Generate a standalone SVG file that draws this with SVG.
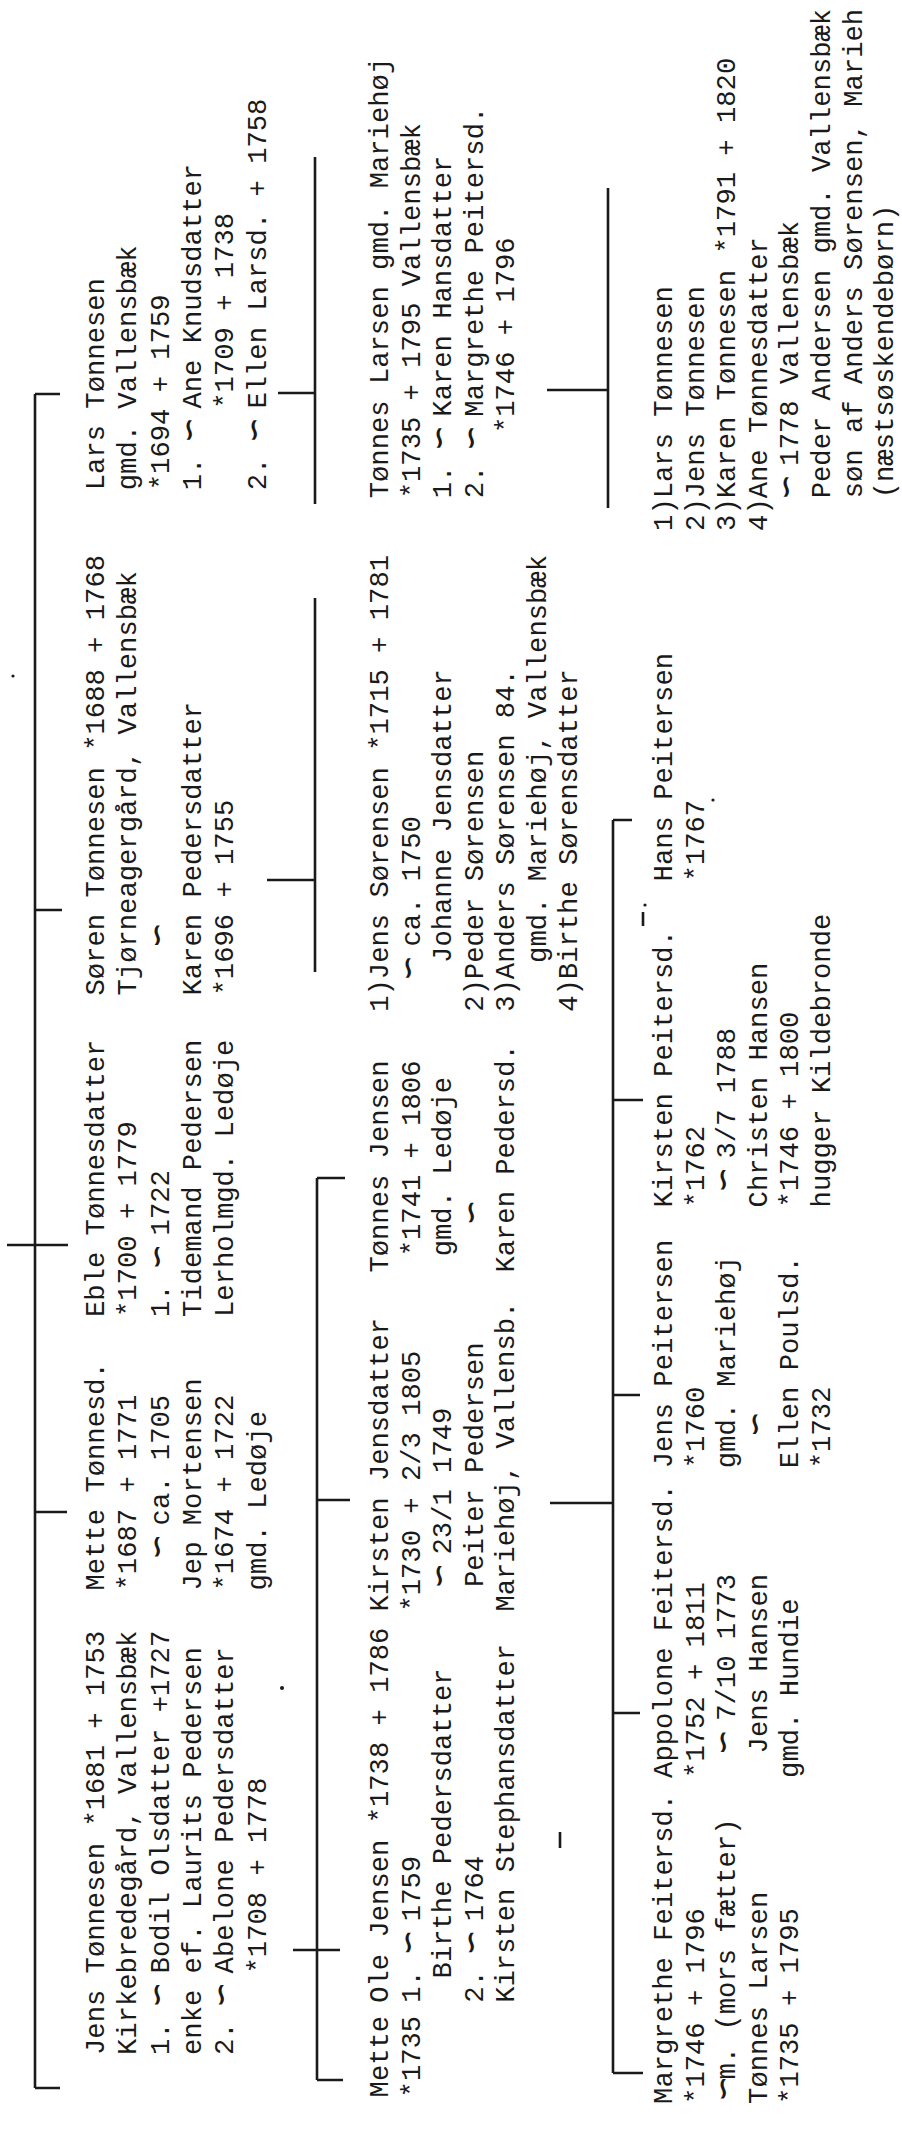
<svg xmlns="http://www.w3.org/2000/svg" width="902" height="2145" viewBox="0 0 902 2145">
<style>
.t{font-family:"Liberation Mono","DejaVu Sans Mono",monospace;font-size:27.2px;fill:#1a1a1a}
.m{font-family:"DejaVu Sans Mono",monospace;font-size:38px}
.c{stroke:#1a1a1a;stroke-width:2.6;fill:none}
</style>
<rect width="902" height="2145" fill="#fff"/>
<g id="connectors" class="c">
<path d="M35,394V2088M35,394H60M35,910H62M7,1245H68M35,1512H67M35,2088H60"/>
<path d="M278,393H315M315,157V504"/>
<path d="M267,880H315M315,598V972"/>
<path d="M293,1950H340M317,1178V2080M317,1178H345M317,1500H350M317,2080H343"/>
<path d="M550,1503H613M613,820V2073M613,820H632M613,1100H643M613,1395H640M613,1713H640M613,2073H643"/>
<path d="M547,390H608M608,188V508"/>
<path d="M643,912V926M560,1832V1848"/>
</g>
<g id="marks" fill="#1a1a1a">
<circle cx="282" cy="1688" r="2"/><circle cx="13" cy="676" r="1.6"/><circle cx="713" cy="800" r="1.6"/><circle cx="645" cy="905" r="1.6"/>
</g>
<g transform="translate(0,2145) rotate(-90)">
<g id="n-jens" class="t">
<text x="90" y="104">Jens Tønnesen *1681 + 1753</text>
<text x="90" y="136.3">Kirkebredegård, Vallensbæk</text>
<text x="90" y="168.6">1. <tspan class="m">∽</tspan><tspan x="155.3"> Bodil Olsdatter +1727</tspan></text>
<text x="90" y="200.9">enke ef. Laurits Pedersen</text>
<text x="90" y="233.2">2. <tspan class="m">∽</tspan><tspan x="155.3"> Abelone Pedersdatter</tspan></text>
<text x="171.5" y="265.5">*1708 + 1778</text>
</g>
<g id="n-mette" class="t">
<text x="554.5" y="104">Mette Tønnesd.</text>
<text x="554.5" y="136.3">*1687 + 1771</text>
<text x="587" y="168.6"><tspan class="m">∽</tspan><tspan x="603.3"> ca. 1705</tspan></text>
<text x="554.5" y="200.9">Jep Mortensen</text>
<text x="554.5" y="233.2">*1674 + 1722</text>
<text x="554.5" y="265.5">gmd. Ledøje</text>
</g>
<g id="n-eble" class="t">
<text x="828" y="104">Eble Tønnesdatter</text>
<text x="828" y="136.3">*1700 + 1779</text>
<text x="828" y="168.6">1. <tspan class="m">∽</tspan><tspan x="893.3"> 1722</tspan></text>
<text x="828" y="200.9">Tidemand Pedersen</text>
<text x="828" y="233.2">Lerholmgd. Ledøje</text>
</g>
<g id="n-soren" class="t">
<text x="1149.5" y="104">Søren Tønnesen *1688 + 1768</text>
<text x="1149.5" y="136.3">Tjørneagergård, Vallensbæk</text>
<text x="1198.4" y="168.6" class="m">∽</text>
<text x="1149.5" y="200.9">Karen Pedersdatter</text>
<text x="1149.5" y="233.2">*1696 + 1755</text>
</g>
<g id="n-lars" class="t">
<text x="1654.8" y="104">Lars Tønnesen</text>
<text x="1654.8" y="136.3">gmd. Vallensbæk</text>
<text x="1654.8" y="168.6">*1694 + 1759</text>
<text x="1654.8" y="200.9">1. <tspan class="m">∽</tspan><tspan x="1720.1"> Ane Knudsdatter</tspan></text>
<text x="1736.3" y="233.2">*1709 + 1738</text>
<text x="1654.8" y="265.5">2. <tspan class="m">∽</tspan><tspan x="1720.1"> Ellen Larsd. + 1758</tspan></text>
</g>
<g id="n-mette2" class="t">
<text x="47.6" y="388">Mette</text>
<text x="47.6" y="419.5">*1735</text>
</g>
<g id="n-ole" class="t">
<text x="142.2" y="388">Ole Jensen *1738 + 1786</text>
<text x="142.2" y="419.5">1. <tspan class="m">∽</tspan><tspan x="207.5"> 1759</tspan></text>
<text x="166.6" y="451">Birthe Pedersdatter</text>
<text x="142.2" y="482.5">2. <tspan class="m">∽</tspan><tspan x="207.5"> 1764</tspan></text>
<text x="142.2" y="514">Kirsten Stephansdatter</text>
</g>
<g id="n-kirsten" class="t">
<text x="533.4" y="388">Kirsten Jensdatter</text>
<text x="533.4" y="419.5">*1730 + 2/3 1805</text>
<text x="557.9" y="451"><tspan class="m">∽</tspan><tspan x="574.2"> 23/1 1749</tspan></text>
<text x="557.9" y="482.5">Peiter Pedersen</text>
<text x="533.4" y="514">Mariehøj, Vallensb.</text>
</g>
<g id="n-tonnes-jensen" class="t">
<text x="872.4" y="388">Tønnes Jensen</text>
<text x="888.7" y="419.5">*1741 + 1806</text>
<text x="888.7" y="451">gmd. Ledøje</text>
<text x="921.3" y="482.5" class="m">∽</text>
<text x="872.4" y="514">Karen Pedersd.</text>
</g>
<g id="n-jens-sorensen" class="t">
<text x="1133.2" y="388">1)Jens Sørensen *1715 + 1781</text>
<text x="1165.8" y="419.5"><tspan class="m">∽</tspan><tspan x="1182.1"> ca. 1750</tspan></text>
<text x="1182.1" y="451">Johanne Jensdatter</text>
<text x="1133.2" y="482.5">2)Peder Sørensen</text>
<text x="1133.2" y="514">3)Anders Sørensen 84.</text>
<text x="1182.1" y="545.5">gmd. Mariehøj, Vallensbæk</text>
<text x="1133.2" y="577">4)Birthe Sørensdatter</text>
</g>
<g id="n-tonnes-larsen" class="t">
<text x="1646.7" y="388">Tønnes Larsen gmd. Mariehøj</text>
<text x="1646.7" y="419.5">*1735 + 1795 Vallensbæk</text>
<text x="1646.7" y="451">1. <tspan class="m">∽</tspan><tspan x="1712"> Karen Hansdatter</tspan></text>
<text x="1646.7" y="482.5">2. <tspan class="m">∽</tspan><tspan x="1712"> Margrethe Peitersd.</tspan></text>
<text x="1711.9" y="514">*1746 + 1796</text>
</g>
<g id="n-margrethe" class="t">
<text x="41.1" y="672">Margrethe Feitersd.</text>
<text x="41.1" y="703.6">*1746 + 1796</text>
<text x="45" y="735.2"><tspan class="m">∽</tspan><tspan x="65.5">m. (mors fætter)</tspan></text>
<text x="41.1" y="766.8">Tønnes Larsen</text>
<text x="41.1" y="798.4">*1735 + 1795</text>
</g>
<g id="n-appolone" class="t">
<text x="367.1" y="672">Appolone Feitersd.</text>
<text x="367.1" y="703.6">*1752 + 1811</text>
<text x="391.6" y="735.2"><tspan class="m">∽</tspan><tspan x="407.9"> 7/10 1773</tspan></text>
<text x="391.6" y="766.8">Jens Hansen</text>
<text x="367.1" y="798.4">gmd. Hundie</text>
</g>
<g id="n-jens-peitersen" class="t">
<text x="676.8" y="672">Jens Peitersen</text>
<text x="676.8" y="703.6">*1760</text>
<text x="676.8" y="735.2">gmd. Mariehøj</text>
<text x="709.4" y="766.8" class="m">∽</text>
<text x="676.8" y="798.4">Ellen Poulsd.</text>
<text x="676.8" y="830">*1732</text>
</g>
<g id="n-kirsten-peitersd" class="t">
<text x="937.6" y="672">Kirsten Peitersd.</text>
<text x="937.6" y="703.6">*1762</text>
<text x="953.9" y="735.2"><tspan class="m">∽</tspan><tspan x="970.2"> 3/7 1788</tspan></text>
<text x="937.6" y="766.8">Christen Hansen</text>
<text x="937.6" y="798.4">*1746 + 1800</text>
<text x="937.6" y="830">hugger Kildebronde</text>
</g>
<g id="n-hans" class="t">
<text x="1263.6" y="672">Hans Peitersen</text>
<text x="1263.6" y="703.6">*1767</text>
</g>
<g id="n-lars-children" class="t">
<text x="1614.1" y="672">1)Lars Tønnesen</text>
<text x="1614.1" y="703.6">2)Jens Tønnesen</text>
<text x="1614.1" y="735.2">3)Karen Tønnesen *1791 + 1820</text>
<text x="1614.1" y="766.8">4)Ane Tønnesdatter</text>
<text x="1646.7" y="798.4"><tspan class="m">∽</tspan><tspan x="1663"> 1778 Vallensbæk</tspan></text>
<text x="1646.7" y="830">Peder Andersen gmd. Vallensbæk</text>
<text x="1646.7" y="861.6">søn af Anders Sørensen, Marieh</text>
<text x="1646.7" y="893.2">(næstsøskendebørn)</text>
</g>
</g>
</svg>
